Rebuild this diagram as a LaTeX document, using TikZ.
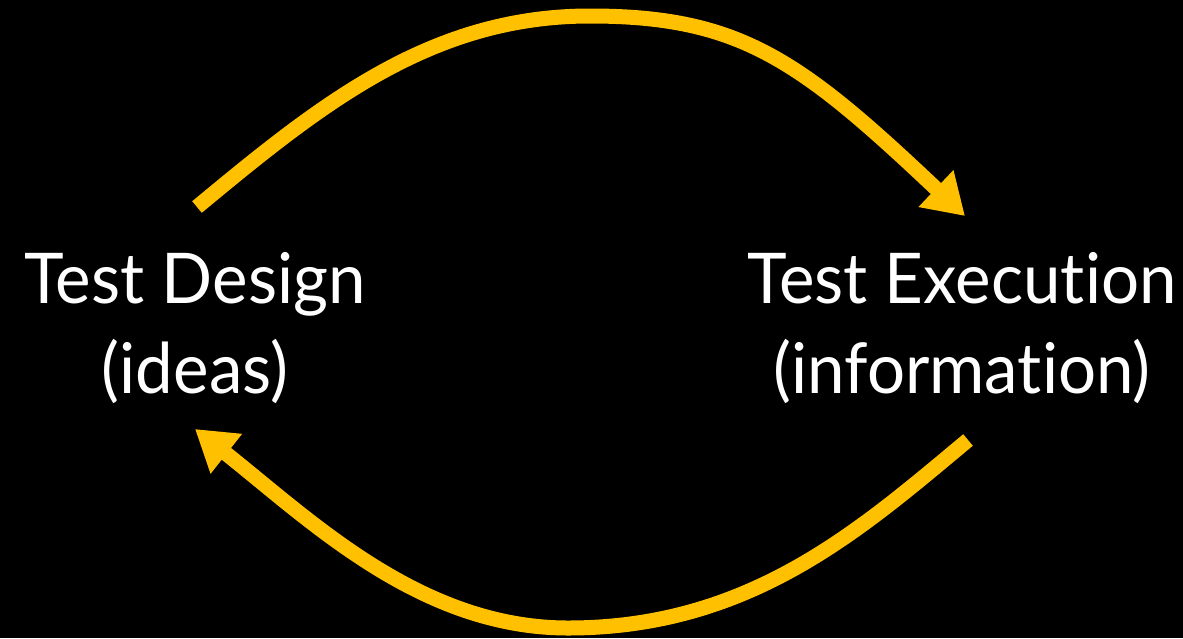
\documentclass[tikz,border=0pt]{standalone}
\usepackage{fontspec}
\setmainfont{Lato}[Ligatures={NoCommon,NoRare}, FakeStretch=0.96]
\usetikzlibrary{arrows.meta}
\definecolor{arrowgold}{RGB}{255,192,0}
\tikzset{
  label text/.style={text=white, align=center, inner sep=0pt,
    font=\fontsize{70}{90}\selectfont},
  cycle arrow/.style={draw=arrowgold, line width=15pt,
    -{Triangle[length=40pt,width=48pt]}}
}
\begin{document}
\begin{tikzpicture}[x=1pt,y=-1pt]
  \fill[black] (0,0) rectangle (1183,638);
  \useasboundingbox (0,0) rectangle (1183,638);
  \node[label text] (design) at (195,328) {Test Design\\(ideas)};
  \node[label text] (exec) at (962,328) {Test Execution\\(information)};
  \coordinate (ds) at (197,207);
  \coordinate (de) at (965,216);
  \coordinate (es) at (968,440);
  \coordinate (ee) at (195,429);
  \draw[cycle arrow] (ds) .. controls (320,105) and (430,16) .. (590,16)
    .. controls (740,16) and (800,60) .. (de);
  \draw[cycle arrow] (es) .. controls (860,530) and (750,628) .. (568,628)
    .. controls (420,628) and (310,520) .. (ee);
\end{tikzpicture}
\end{document}
